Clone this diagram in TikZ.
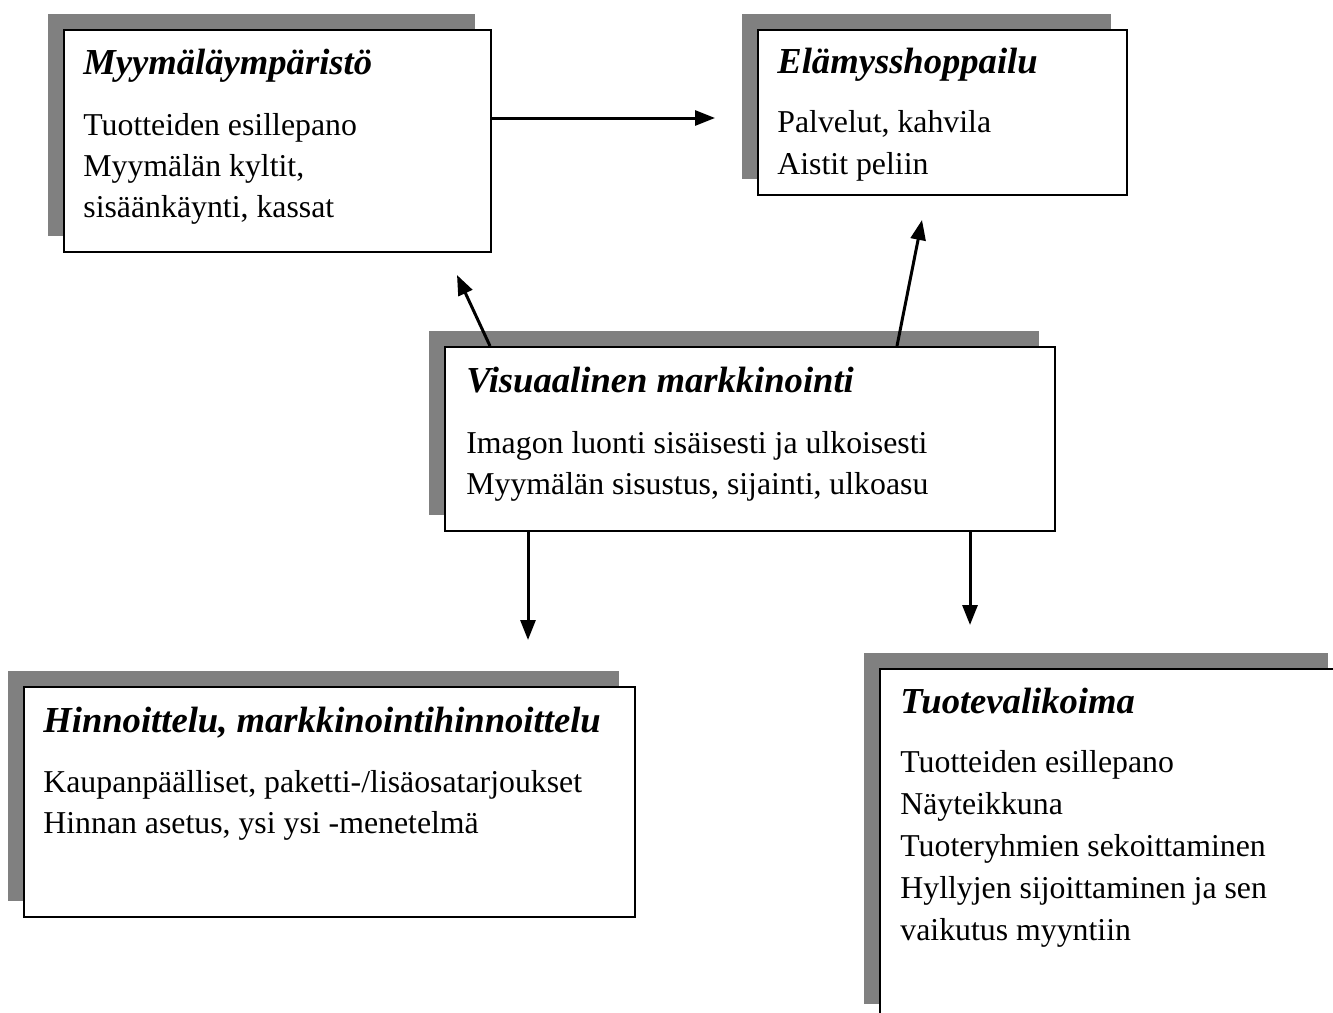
\documentclass[tikz,border=0pt]{standalone}
\usepackage{fontspec}
\setmainfont{Liberation Serif}
\usetikzlibrary{shadows,arrows.meta}

\begin{document}
\begin{tikzpicture}[x=0.5pt,y=-0.5pt,
    laatikko/.style={draw,line width=1pt,fill=white,anchor=north west,inner sep=0pt,
        drop shadow={shadow xshift=-8pt,shadow yshift=8pt,opacity=1,fill=gray}},
    otsikko/.style={anchor=base west,inner sep=0pt,font=\fontsize{18.3}{22}\selectfont\bfseries\itshape},
    rivi/.style={anchor=base west,inner sep=0pt,font=\fontsize{15.9}{20}\selectfont},
    nuoli/.style={line width=1.5pt,-{Triangle[length=10pt,width=7.5pt]}}]
\useasboundingbox (0,0) rectangle (1333,1012);
\node[laatikko,minimum width=213.5pt,minimum height=111pt] (mymp) at (63,29) {};
\node[laatikko,minimum width=184.5pt,minimum height=82.5pt] (elam) at (757,29) {};
\node[laatikko,minimum width=305pt,minimum height=92pt] (visu) at (444,346) {};
\node[laatikko,minimum width=305.5pt,minimum height=115pt] (hinn) at (23,686) {};
\node[laatikko,minimum width=232pt,minimum height=175.5pt] (tuot) at (879,668) {};
\node[otsikko] (mymp-o) at (83,74) {Myymäläympäristö};
\node[rivi] (mymp-1) at (83,135) {Tuotteiden esillepano};
\node[rivi] (mymp-2) at (83,176) {Myymälän kyltit,};
\node[rivi] (mymp-3) at (83,217) {sisäänkäynti, kassat};
\node[otsikko] (elam-o) at (777,73) {Elämysshoppailu};
\node[rivi] (elam-1) at (777,132) {Palvelut, kahvila};
\node[rivi] (elam-2) at (777,174) {Aistit peliin};
\node[otsikko] (visu-o) at (466,392) {Visuaalinen markkinointi};
\node[rivi] (visu-1) at (466,453) {Imagon luonti sisäisesti ja ulkoisesti};
\node[rivi] (visu-2) at (466,494) {Myymälän sisustus, sijainti, ulkoasu};
\node[otsikko] (hinn-o) at (43,732) {Hinnoittelu, markkinointihinnoittelu};
\node[rivi] (hinn-1) at (43,792) {Kaupanpäälliset, paketti-/lisäosatarjoukset};
\node[rivi] (hinn-2) at (43,833) {Hinnan asetus, ysi ysi -menetelmä};
\node[otsikko] (tuot-o) at (900,713) {Tuotevalikoima};
\node[rivi] (tuot-1) at (900,772) {Tuotteiden esillepano};
\node[rivi] (tuot-2) at (900,814) {Näyteikkuna};
\node[rivi] (tuot-3) at (900,856) {Tuoteryhmien sekoittaminen};
\node[rivi] (tuot-4) at (900,898) {Hyllyjen sijoittaminen ja sen};
\node[rivi] (tuot-5) at (900,940) {vaikutus myyntiin};
\coordinate (k1) at (715,118);
\coordinate (k2) at (457,275);
\coordinate (k3) at (922,220);
\coordinate (k4) at (528,640);
\coordinate (k5) at (970,625);
\draw[nuoli] (mymp.east |- k1) -- (k1);
\draw[nuoli] ([xshift=23pt]visu.north west) -- (k2);
\draw[nuoli] ([xshift=226.5pt]visu.north west) -- (k3);
\draw[nuoli] ([xshift=42pt]visu.south west) -- (k4);
\draw[nuoli] ([xshift=263pt]visu.south west) -- (k5);
\end{tikzpicture}
\end{document}
